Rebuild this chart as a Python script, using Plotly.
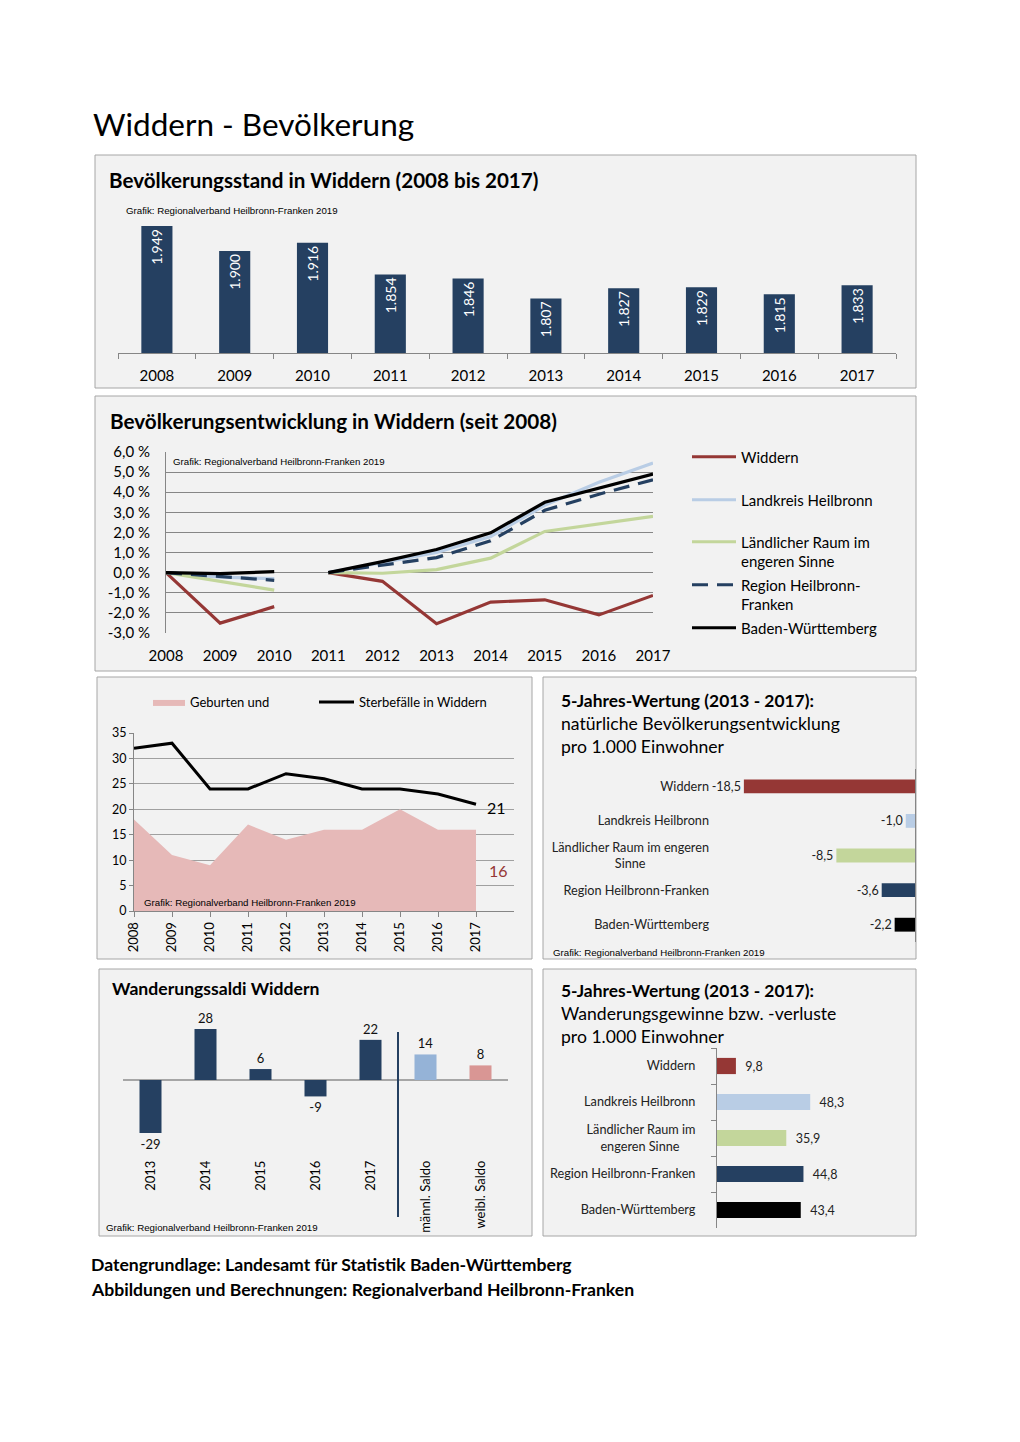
import plotly.graph_objects as go

W, H = 1020, 1442
OFF = 8  # page body margin of the html page
def px(x): return (x - OFF) / W
def py(y): return 1 - (y - OFF) / H

EN = "\u2002"
NB = "\u00a0"

# ---------------- data ----------------
years = ["2008", "2009", "2010", "2011", "2012", "2013", "2014", "2015", "2016", "2017"]
population = [1949, 1900, 1916, 1854, 1846, 1807, 1827, 1829, 1815, 1833]

dev_years_a = [2008, 2009, 2010]
dev_years_b = [2011, 2012, 2013, 2014, 2015, 2016, 2017]
widdern_a = [0.0, -2.51, -1.69]
widdern_b = [0.0, -0.43, -2.54, -1.46, -1.35, -2.10, -1.13]
landkreis_a = [0.0, -0.22, -0.30]
landkreis_b = [0.0, 0.50, 1.00, 1.80, 3.35, 4.50, 5.45]
laendlich_a = [0.0, -0.42, -0.87]
laendlich_b = [0.0, -0.03, 0.15, 0.72, 2.05, 2.42, 2.80]
region_a = [0.0, -0.20, -0.38]
region_b = [0.0, 0.38, 0.75, 1.58, 3.10, 3.90, 4.62]
bawue_a = [0.0, -0.05, 0.05]
bawue_b = [0.0, 0.55, 1.15, 1.98, 3.50, 4.20, 4.90]
dev_ticks = [-3, -2, -1, 0, 1, 2, 3, 4, 5, 6]

bd_years = [2008, 2009, 2010, 2011, 2012, 2013, 2014, 2015, 2016, 2017]
births = [18, 11, 9, 17, 14, 16, 16, 20, 16, 16]
deaths = [32, 33, 24, 24, 27, 26, 24, 24, 23, 21]

nat_regions = ["Widdern", "Landkreis Heilbronn", "Ländlicher Raum im engeren<br>Sinne" + EN * 10,
               "Region Heilbronn-Franken", "Baden-Württemberg"]
nat_values = [-18.5, -1.0, -8.5, -3.6, -2.2]

mig_cats = ["2013", "2014", "2015", "2016", "2017", "männl. Saldo", "weibl. Saldo"]
mig_values = [-29, 28, 6, -9, 22, 14, 8]

mig_regions = ["Widdern", "Landkreis Heilbronn", "Ländlicher Raum im<br>engeren Sinne" + EN * 2 + NB,
               "Region Heilbronn-Franken", "Baden-Württemberg"]
mig_rates = [9.8, 48.3, 35.9, 44.8, 43.4]

region_colors = ["#953735", "#b9cde5", "#c3d69b", "#254061", "#000000"]
mig_colors = ["#254061"] * 5 + ["#95b3d7", "#d99694"]

def de1(v):
    return f"{v:.1f}".replace(".", ",")

FONT = "Lato"
GRID = "#868686"
SRC = "Grafik: Regionalverband Heilbronn-Franken 2019"

fig = go.Figure()

# ---------- A: population bars ----------
fig.add_trace(go.Bar(
    x=years, y=population, xaxis="x", yaxis="y", width=0.4,
    marker=dict(color="#254061", line=dict(width=0)),
    text=[f"{v:,}".replace(",", ".") for v in population],
    textposition="inside", insidetextanchor="end", textangle=-90,
    textfont=dict(color="white", size=14, family=FONT),
    showlegend=False, hoverinfo="skip"))

# ---------- B: development lines ----------
dev_series = [
    ("Widdern", widdern_a, widdern_b, "#953735", "solid", "legend"),
    ("Landkreis Heilbronn", landkreis_a, landkreis_b, "#b9cde5", "solid", "legend2"),
    ("Ländlicher Raum im<br>engeren Sinne", laendlich_a, laendlich_b, "#c3d69b", "solid", "legend3"),
    ("Region Heilbronn-<br>Franken", region_a, region_b, "#254061", "16px,9px", "legend4"),
    ("Baden-Württemberg", bawue_a, bawue_b, "#000000", "solid", "legend5"),
]
for name, ya, yb, col, dash, leg in dev_series:
    fig.add_trace(go.Scatter(x=dev_years_a, y=ya, xaxis="x2", yaxis="y2", mode="lines",
                             name=name, legend=leg,
                             line=dict(color=col, width=3.2, dash=dash), hoverinfo="skip"))
    fig.add_trace(go.Scatter(x=dev_years_b, y=yb, xaxis="x2", yaxis="y2", mode="lines",
                             showlegend=False,
                             line=dict(color=col, width=3.2, dash=dash), hoverinfo="skip"))

# ---------- C: births / deaths ----------
fig.add_trace(go.Scatter(x=bd_years, y=births, xaxis="x3", yaxis="y3", mode="lines",
                         fill="tozeroy", fillcolor="#e6b9b8", line=dict(width=0, color="#e6b9b8"),
                         name="Geburten und", legend="legend6", hoverinfo="skip"))
fig.add_trace(go.Scatter(x=bd_years, y=deaths, xaxis="x3", yaxis="y3", mode="lines",
                         line=dict(color="black", width=3),
                         name="Sterbefälle in Widdern", legend="legend7", hoverinfo="skip"))

# ---------- D: natural development ----------
fig.add_trace(go.Bar(x=nat_values, y=nat_regions, orientation="h", xaxis="x4", yaxis="y4",
                     width=0.4, marker=dict(color=region_colors, line=dict(width=0)),
                     text=[de1(v) for v in nat_values], textposition="outside",
                     textfont=dict(size=12.5, color="#222", family=FONT), constraintext="none",
                     cliponaxis=False, showlegend=False, hoverinfo="skip"))

# ---------- E: migration balances ----------
fig.add_trace(go.Bar(x=mig_cats, y=mig_values, xaxis="x5", yaxis="y5", width=0.4,
                     marker=dict(color=mig_colors, line=dict(width=0)),
                     text=[str(v) for v in mig_values], textposition="outside",
                     textfont=dict(size=13, color="#111", family=FONT), constraintext="none",
                     cliponaxis=False, showlegend=False, hoverinfo="skip"))

# ---------- F: migration per 1000 ----------
fig.add_trace(go.Bar(x=mig_rates, y=mig_regions, orientation="h", xaxis="x6", yaxis="y6",
                     width=0.45, marker=dict(color=region_colors, line=dict(width=0)),
                     text=[NB * 2 + de1(v) for v in mig_rates], textposition="outside",
                     textfont=dict(size=12.5, color="#222", family=FONT), constraintext="none",
                     cliponaxis=False, showlegend=False, hoverinfo="skip"))

# ---------------- panel boxes ----------------
boxes = [(95, 155, 916, 388), (95, 396, 916, 671), (97, 677, 532, 959),
         (543, 677, 916, 959), (99, 969, 532, 1236), (543, 969, 916, 1236)]
shapes = []
for x0, y0, x1, y1 in boxes:
    shapes.append(dict(type="rect", xref="paper", yref="paper", layer="below",
                       x0=px(x0), x1=px(x1), y0=py(y1), y1=py(y0),
                       fillcolor="#f2f2f2", line=dict(color="#a6a6a6", width=1)))
# divider in migration chart
shapes.append(dict(type="line", xref="x5", yref="paper", x0=4.5, x1=4.5,
                   y0=py(1217), y1=py(1032), line=dict(color="#254061", width=2)))

# ---------------- annotations ----------------
def ann(text, x, y, size, bold=False, color="black", family=FONT, xanchor="left"):
    return dict(text=f"<b>{text}</b>" if bold else text, x=px(x), y=py(y), xref="paper", yref="paper",
                xanchor=xanchor, yanchor="middle", showarrow=False,
                font=dict(size=size, color=color, family=family))

annotations = [
    ann("Widdern - Bevölkerung", 91, 124, 31.5),
    ann("Bevölkerungsstand in Widdern (2008 bis 2017)", 107, 180, 20.6, bold=True),
    ann(SRC, 124, 211, 9.7, family="Liberation Sans"),
    ann("Bevölkerungsentwicklung in Widdern (seit 2008)", 108, 421, 20.7, bold=True),
    ann(SRC, 171, 461, 9.7, family="Liberation Sans"),
    ann(SRC, 142, 903, 9.7, family="Liberation Sans"),
    ann("5-Jahres-Wertung (2013 - 2017):", 559, 700, 17.4, bold=True),
    ann("natürliche Bevölkerungsentwicklung", 559, 723, 17.6),
    ann("pro 1.000 Einwohner", 559, 746, 17.6),
    ann(SRC, 551, 952, 9.7, family="Liberation Sans"),
    ann("Wanderungssaldi Widdern", 110, 988, 17.6, bold=True),
    ann(SRC, 104, 1227, 9.7, family="Liberation Sans"),
    ann("5-Jahres-Wertung (2013 - 2017):", 559, 990, 17.4, bold=True),
    ann("Wanderungsgewinne bzw. -verluste", 559, 1013, 17.6),
    ann("pro 1.000 Einwohner", 559, 1036, 17.6),
    ann("Datengrundlage: Landesamt für Statistik Baden-Württemberg", 89, 1264, 17.6, bold=True),
    ann("Abbildungen und Berechnungen: Regionalverband Heilbronn-Franken", 89, 1289, 17.6, bold=True),
    dict(text=str(deaths[-1]), x=bd_years[-1], y=deaths[-1], xref="x3", yref="y3",
         xanchor="left", xshift=9, yshift=-3, showarrow=False,
         font=dict(size=16, color="black", family=FONT)),
    dict(text=str(births[-1]), x=bd_years[-1], y=births[-1], xref="x3", yref="y3",
         xshift=22, yshift=-41, showarrow=False, font=dict(size=16, color="#953735", family=FONT)),
]

# ---------------- legends ----------------
def leg(x, y, size=15, itemwidth=40):
    return dict(x=px(x), y=py(y), xanchor="left", yanchor="top", bgcolor="rgba(0,0,0,0)",
                font=dict(size=size, color="black", family=FONT), itemwidth=itemwidth,
                valign="top", borderwidth=0, tracegroupgap=0,
                itemclick=False, itemdoubleclick=False)

tick_font = dict(size=15, color="black", family=FONT)

fig.update_layout(
    width=W, height=H, autosize=False,
    margin=dict(l=0, r=0, t=0, b=0, pad=0, autoexpand=False),
    paper_bgcolor="white", plot_bgcolor="white",
    font=dict(family=FONT, color="black"),
    shapes=shapes, annotations=annotations,
    legend=leg(687, 440.5, itemwidth=44), legend2=leg(687, 483.5, itemwidth=44),
    legend3=leg(687, 525.5, itemwidth=44), legend4=leg(687, 568.5, itemwidth=44),
    legend5=leg(687, 611.5, itemwidth=44),
    legend6=leg(148, 687, size=13, itemwidth=32), legend7=leg(314, 687, size=13, itemwidth=35),
    # A
    xaxis=dict(domain=[px(118), px(896)], anchor="y", type="category", ticks="outside",
               tickson="boundaries", ticklen=5, tickcolor=GRID, showline=True, linecolor=GRID,
               showgrid=False, tickfont=tick_font, ticklabelstandoff=9, automargin=False),
    yaxis=dict(domain=[py(353), py(200)], anchor="x", range=[1700, 2000], showgrid=False,
               showticklabels=False, zeroline=False, showline=False, automargin=False),
    # B
    xaxis2=dict(domain=[px(166), px(653)], anchor="y2", range=[2008, 2017], tickvals=bd_years,
                ticks="", showgrid=False, showline=False, zeroline=False, tickfont=tick_font,
                ticklabelstandoff=12, automargin=False),
    yaxis2=dict(domain=[py(633), py(452)], anchor="x2", range=[-3, 6], tickvals=dev_ticks,
                ticktext=[f"{v:.1f} %".replace(".", ",") for v in dev_ticks],
                showgrid=True, gridcolor=GRID, gridwidth=1, showline=True, linecolor=GRID,
                zeroline=False, ticks="", tickfont=tick_font, ticklabelstandoff=12, automargin=False),
    # C
    xaxis3=dict(domain=[px(134), px(514)], anchor="y3", range=[2008, 2018], tickvals=bd_years,
                tickangle=-90, ticks="outside", ticklen=5, tickcolor=GRID, showline=True,
                linecolor=GRID, showgrid=False, zeroline=False, automargin=False,
                tickfont=dict(size=13, color="black", family=FONT)),
    yaxis3=dict(domain=[py(911), py(733)], anchor="x3", range=[0, 35], dtick=5,
                showgrid=True, gridcolor="#a0a0a0", showline=True, linecolor=GRID,
                ticks="outside", ticklen=4, tickcolor=GRID, zeroline=False, automargin=False,
                tickfont=dict(size=12.5, color="black", family=FONT)),
    # D
    xaxis4=dict(domain=[px(730), px(915)], anchor="y4", range=[-20, 0], showticklabels=False,
                showgrid=False, zeroline=True, zerolinecolor=GRID, zerolinewidth=1, ticks="",
                automargin=False),
    yaxis4=dict(domain=[py(942), py(769)], anchor="x4", type="category", autorange="reversed",
                showgrid=False, showline=False, ticks="", ticklabelstandoff=20, automargin=False,
                tickfont=dict(size=12.7, color="#222", family=FONT)),
    # E
    xaxis5=dict(domain=[px(123), px(508)], anchor="y5", type="category", tickangle=-90,
                ticks="", showline=False, showgrid=False, ticklabelstandoff=4, automargin=False,
                tickfont=dict(size=13, color="black", family=FONT)),
    yaxis5=dict(domain=[py(1153), py(1007)], anchor="x5", range=[-40, 40], showticklabels=False,
                showgrid=False, zeroline=True, zerolinecolor="#a6a6a6", zerolinewidth=1.5,
                automargin=False),
    # F
    xaxis6=dict(domain=[px(717), px(910)], anchor="y6", range=[0, 100], showticklabels=False,
                showgrid=False, zeroline=False, ticks="", automargin=False),
    yaxis6=dict(domain=[py(1228), py(1048)], anchor="x6", type="category", autorange="reversed",
                showgrid=False, showline=True, linecolor=GRID, ticks="outside", tickson="boundaries",
                ticklen=5, tickcolor=GRID, ticklabelstandoff=18, automargin=False,
                tickfont=dict(size=12.7, color="#222", family=FONT)),
)

fig.write_html("out.html")
